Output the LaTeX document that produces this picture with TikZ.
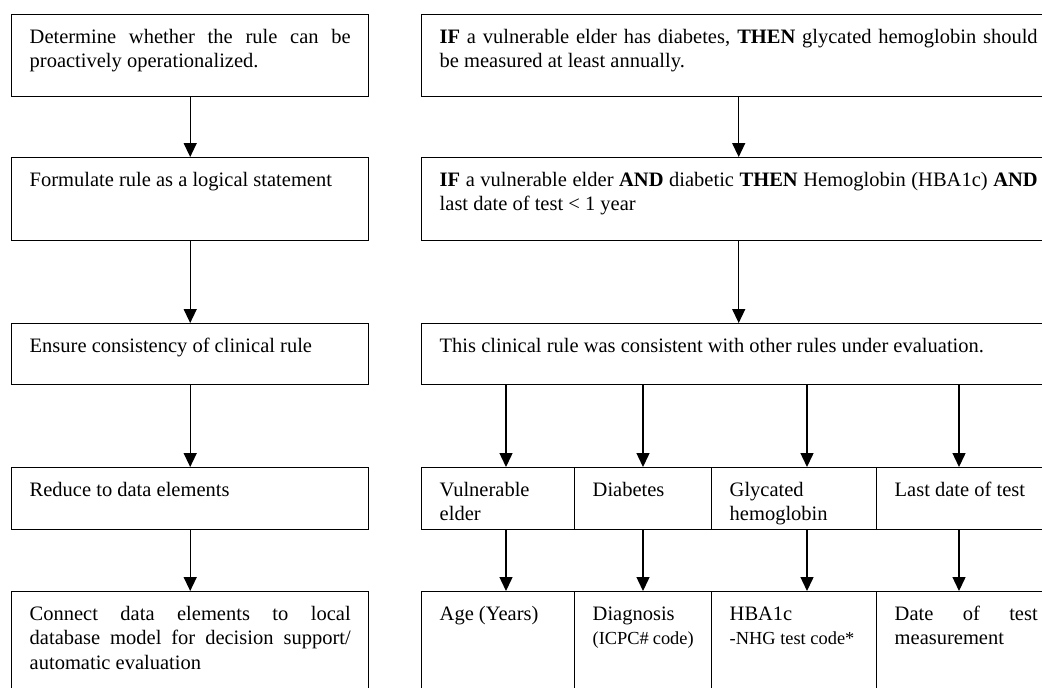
\documentclass[tikz,border=0pt]{standalone}
\usepackage{fontspec}
\setmainfont{Liberation Serif}
\usetikzlibrary{arrows.meta,positioning}
\newcommand{\smalltxt}{\fontsize{9.2}{12.1}\selectfont}
\hyphenpenalty=10000
\exhyphenpenalty=10000

\begin{document}
\begin{tikzpicture}[
    box/.style={draw, line width=0.7pt, anchor=north west, align=justify,
      inner xsep=9pt, inner ysep=0pt, text height=14.5pt,
      font=\fontsize{10.25}{12.1}\selectfont},
    arr/.style={draw, line width=0.7pt, -{Triangle[length=7pt,width=6.5pt]}}
  ]
  \useasboundingbox (0,0) rectangle (521pt,-343.5pt);
  %left column
  \node[box, text width=160.5pt, text depth=26.5pt] (det) at (5.5pt,-7pt)
    {Determine whether the rule can be proactively operationalized.};
  \node[box, text width=160.5pt, text depth=27pt] (form) at (5.5pt,-78.5pt)
    {Formulate rule as a logical statement};
  \node[box, text width=160.5pt, text depth=16pt] (ens) at (5.5pt,-161.5pt)
    {Ensure consistency of clinical rule};
  \node[box, text width=160.5pt, text depth=16.5pt] (red) at (5.5pt,-233.5pt)
    {Reduce to data elements};
  \node[box, text width=160.5pt, text depth=37.5pt] (conn) at (5.5pt,-295.5pt)
    {Connect data elements to local\linebreak database model for decision support/\linebreak automatic evaluation};
  %right column
  \node[box, text width=299pt, text depth=26.5pt] (rule) at (210.5pt,-7pt)
    {\textbf{IF} a vulnerable elder has diabetes, \textbf{THEN} glycated hemoglobin should\linebreak be measured at least annually.};
  \node[box, text width=299pt, text depth=27pt] (logic) at (210.5pt,-78.5pt)
    {\textbf{IF} a vulnerable elder \textbf{AND} diabetic \textbf{THEN} Hemoglobin (HBA1c) \textbf{AND} last date of test < 1 year};
  \node[box, text width=299pt, text depth=16pt] (cons) at (210.5pt,-161.5pt)
    {This clinical rule was consistent with other rules under evaluation.};
  %data elements
  \node[box, text width=58.5pt, text depth=16.5pt] (vul) at (210.5pt,-233.5pt) {Vulnerable elder};
  \node[box, text width=50.5pt, text depth=16.5pt] (diab) at (287pt,-233.5pt) {Diabetes};
  \node[box, text width=64.5pt, text depth=16.5pt] (glyc) at (355.5pt,-233.5pt) {Glycated hemoglobin};
  \node[box, text width=71.5pt, text depth=16.5pt] (last) at (438pt,-233.5pt) {Last date of test};
  %local database
  \node[box, text width=58.5pt, text depth=37.5pt] (age) at (210.5pt,-295.5pt) {Age (Years)};
  \node[box, text width=50.5pt, text depth=37.5pt] (diag) at (287pt,-295.5pt)
    {Diagnosis\\{\smalltxt (ICPC\# code)}};
  \node[box, text width=64.5pt, text depth=37.5pt] (hba) at (355.5pt,-295.5pt)
    {HBA1c\\{\smalltxt -NHG test code*}};
  \node[box, text width=71.5pt, text depth=37.5pt] (date) at (438pt,-295.5pt)
    {Date of test measurement};
  %arrow columns
  \coordinate (c1) at (253pt,0);
  \coordinate (c2) at (321.5pt,0);
  \coordinate (c3) at (403.5pt,0);
  \coordinate (c4) at (479.5pt,0);
  %edges
  \path [arr] (det) -- (form);
  \path [arr] (form) -- (ens);
  \path [arr] (ens) -- (red);
  \path [arr] (red) -- (conn);
  \path [arr] (rule) -- (logic);
  \path [arr] (logic) -- (cons);
  \path [arr] (cons.south -| c1) -- (vul.north -| c1);
  \path [arr] (cons.south -| c2) -- (diab.north -| c2);
  \path [arr] (cons.south -| c3) -- (glyc.north -| c3);
  \path [arr] (cons.south -| c4) -- (last.north -| c4);
  \path [arr] (vul.south -| c1) -- (age.north -| c1);
  \path [arr] (diab.south -| c2) -- (diag.north -| c2);
  \path [arr] (glyc.south -| c3) -- (hba.north -| c3);
  \path [arr] (last.south -| c4) -- (date.north -| c4);
\end{tikzpicture}
\end{document}
